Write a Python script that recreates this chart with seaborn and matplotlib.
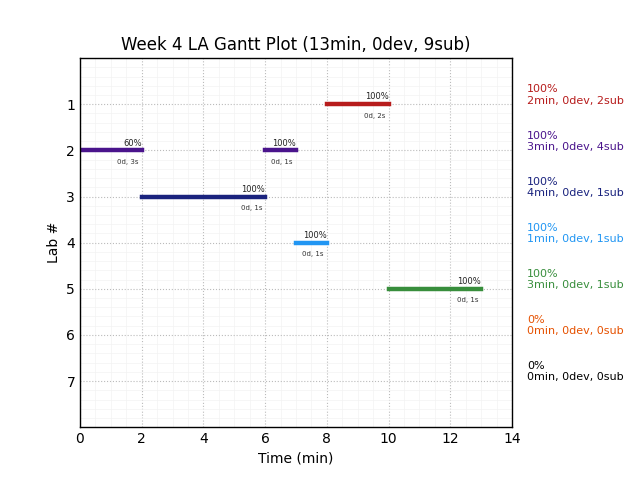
import numpy as np
import pandas as pd
import matplotlib
matplotlib.use("Agg")
import matplotlib.pyplot as plt
import seaborn as sns

# Segments of the gantt plot
labs = [1, 2, 2, 3, 4, 5]
starts = [8, 0, 6, 2, 7, 10]
ends = [10, 2, 7, 6, 8, 13]
pcts = ["100%", "60%", "100%", "100%", "100%", "100%"]
subs = ["0d, 2s", "0d, 3s", "0d, 1s", "0d, 1s", "0d, 1s", "0d, 1s"]

# Per lab summary on the right
lab_ids = [1, 2, 3, 4, 5, 6, 7]
lab_pct = ["100%", "100%", "100%", "100%", "100%", "0%", "0%"]
lab_info = ["2min, 0dev, 2sub", "3min, 0dev, 4sub", "4min, 0dev, 1sub", "1min, 0dev, 1sub",
            "3min, 0dev, 1sub", "0min, 0dev, 0sub", "0min, 0dev, 0sub"]
lab_colors = ["#b71c1c", "#4a148c", "#1a237e", "#2196f3", "#388e3c", "#e65100", "#000000"]

df = pd.DataFrame({"lab": labs, "start": starts, "end": ends, "pct": pcts, "sub": subs})

sns.set_theme(style="white")
plt.rcParams['font.family'] = ['DejaVu Sans']
plt.rcParams['text.color'] = 'black'
plt.rcParams['axes.labelcolor'] = 'black'

fig = plt.figure(figsize=(6.4, 4.8), dpi=100)
ax = fig.add_axes([0.125, 0.110, 0.675, 0.769])

for _, r in df.iterrows():
    c = lab_colors[r["lab"] - 1]
    ln = ax.hlines(r["lab"], r["start"], r["end"], color=c, lw=3.2)
    ln.set_capstyle("projecting")
    ax.text(r["end"], r["lab"] - 0.06, r["pct"], ha="right", va="bottom", fontsize=6, color="#222222")
    ax.text(r["end"] - 0.1, r["lab"] + 0.25, r["sub"], ha="right", va="center", fontsize=5, color="#333333")

for i, lab in enumerate(lab_ids):
    ax.text(1.035, lab - 0.2, lab_pct[i] + "\n" + lab_info[i], transform=ax.get_yaxis_transform(),
            ha="left", va="center", fontsize=8, color=lab_colors[i], linespacing=1.15)

ax.set_xlim(0, 14)
ax.set_ylim(8, 0)
ax.set_xticks(range(0, 15, 2))
ax.set_yticks(lab_ids)
ax.set_xticks(np.arange(0, 14.01, 0.5), minor=True)
ax.set_yticks(np.arange(0, 8.01, 0.2), minor=True)
ax.grid(which="major", color="#bbbbbb", linestyle=":", lw=0.8)
ax.grid(which="minor", color="#f3f3f3", linestyle="-", lw=0.5)
ax.tick_params(which="both", length=0, labelsize=10, colors="black")
for s in ax.spines.values():
    s.set_color("black")
    s.set_linewidth(1)

ax.set_title("Week 4 LA Gantt Plot (13min, 0dev, 9sub)", fontsize=12)
ax.set_xlabel("Time (min)", fontsize=10)
ax.set_ylabel("Lab #", fontsize=10)

plt.savefig("out.png", dpi=100)
